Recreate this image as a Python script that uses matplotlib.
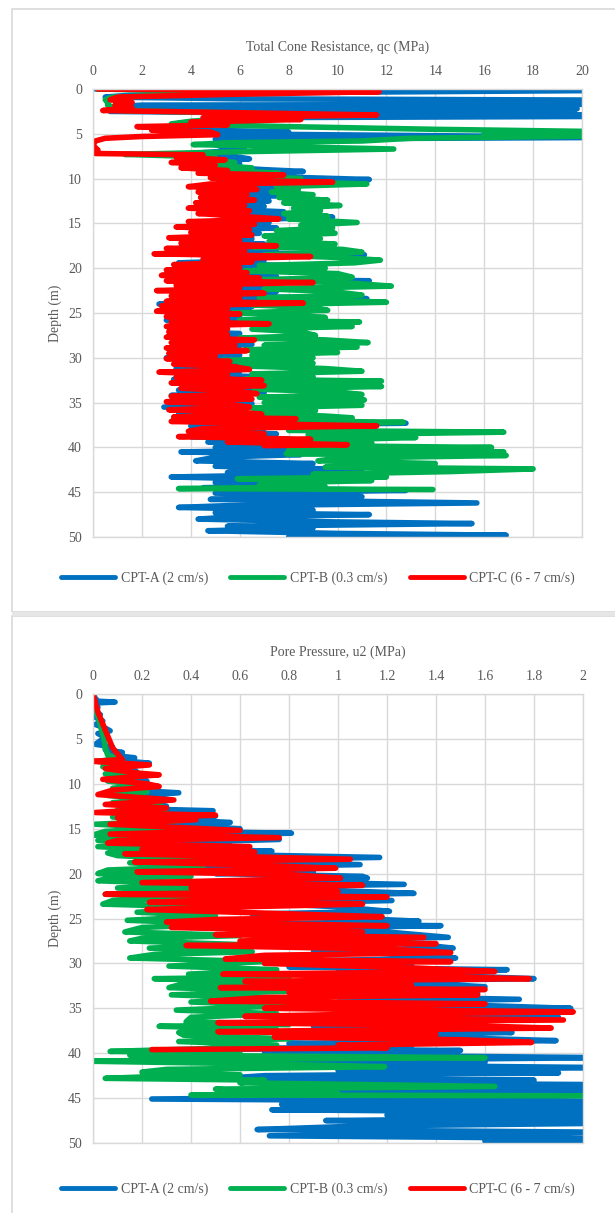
import numpy as np
import matplotlib.pyplot as plt
from matplotlib.patches import Rectangle
from matplotlib.lines import Line2D
from matplotlib.ticker import FuncFormatter

# (depth m, value MPa) pairs
qc_A = [(0.0, 0.1), (0.05, 22), (0.15, 22), (0.4, 8.0), (0.7, 1.5), (0.9, 0.5), (1.1, 6.0), (1.25, 22),
        (1.45, 18.1), (1.7, 22), (1.8, 2.0), (2.0, 0.8), (2.1, 1.2), (2.2, 19.8), (2.3, 1.0), (2.5, 0.7),
        (2.8, 11.5), (2.9, 22), (3.05, 22), (3.2, 6.0), (3.5, 5.0), (3.8, 3.5), (4.1, 4.0), (4.5, 3.0),
        (4.8, 8.0), (5.0, 5.0), (5.4, 22), (5.6, 5.0), (5.9, 5.3), (6.2, 5.0), (6.6, 5.5), (6.8, 6.2),
        (7.1, 4.5), (7.4, 5.5), (7.8, 6.4), (8.1, 4.8), (8.4, 6.0), (8.7, 5.2), (9.0, 7.0), (9.2, 8.6),
        (9.5, 6.0), (9.8, 7.5), (10.1, 11.3), (10.4, 6.2), (10.7, 8.5), (11.0, 5.3), (11.3, 7.8),
        (11.6, 5.5), (11.9, 7.5), (12.2, 5.0), (12.5, 7.2), (12.8, 5.2), (13.1, 7.0), (13.4, 5.0),
        (13.7, 7.8), (14.0, 5.5), (14.3, 9.8), (14.6, 6.0), (14.9, 7.2), (15.2, 5.0), (15.5, 7.5),
        (15.8, 4.5), (16.1, 6.8), (16.4, 4.3), (16.7, 6.5), (17.0, 4.0), (17.3, 7.0), (17.6, 4.5),
        (17.9, 7.5), (18.2, 4.2), (18.5, 11.1), (18.8, 5.0), (19.1, 7.0), (19.4, 3.5), (19.7, 8.0),
        (20.0, 4.2), (20.3, 7.0), (20.6, 3.8), (20.9, 7.5), (21.2, 5.0), (21.4, 11.3), (21.7, 4.5),
        (22.0, 7.0), (22.3, 3.6), (22.6, 7.5), (22.9, 4.0), (23.2, 7.0), (23.4, 11.2), (23.7, 4.5),
        (24.0, 2.7), (24.3, 6.5), (24.6, 4.0), (24.9, 6.0), (25.2, 3.5), (25.5, 6.0), (25.8, 3.0),
        (26.1, 6.5), (26.4, 4.0), (26.7, 5.5), (27.0, 3.5), (27.3, 6.0), (27.6, 3.3), (27.9, 6.0),
        (28.2, 3.5), (28.5, 6.5), (28.8, 3.2), (29.1, 6.0), (29.4, 3.5), (29.7, 6.0), (30.0, 3.0),
        (30.3, 5.5), (30.6, 3.8), (30.9, 6.2), (31.2, 3.4), (31.5, 6.0), (31.8, 3.6), (32.1, 6.5),
        (32.4, 3.3), (32.7, 6.8), (33.0, 3.8), (33.3, 6.5), (33.6, 3.5), (33.9, 7.0), (34.2, 3.2),
        (34.5, 6.0), (34.8, 3.3), (35.1, 6.5), (35.5, 2.9), (35.8, 6.0), (36.1, 3.5), (36.4, 6.5),
        (36.7, 3.8), (37.0, 7.5), (37.3, 12.8), (37.6, 4.0), (37.9, 7.0), (38.2, 4.0), (38.5, 7.5),
        (38.8, 4.0), (39.1, 8.0), (39.4, 4.7), (39.7, 9.5), (40.0, 5.0), (40.3, 9.0), (40.5, 3.6),
        (40.8, 8.5), (41.1, 5.0), (41.5, 4.2), (41.8, 9.0), (42.1, 5.0), (42.5, 11.0), (42.8, 5.5),
        (43.0, 9.5), (43.3, 3.2), (43.6, 8.0), (43.9, 5.0), (44.2, 9.1), (44.5, 4.5), (44.8, 12.8),
        (45.1, 5.0), (45.5, 11.0), (45.8, 4.8), (46.2, 15.7), (46.5, 5.5), (46.7, 3.5), (47.0, 9.0),
        (47.3, 5.0), (47.5, 11.3), (47.8, 5.5), (48.0, 4.3), (48.3, 9.5), (48.5, 15.5), (48.8, 5.5),
        (49.0, 9.0), (49.3, 4.7), (49.6, 10.0), (49.8, 16.9), (50.0, 8.0)]

qc_B = [(0.0, 0.2), (0.3, 5.5), (0.6, 4.0), (0.9, 0.8), (1.2, 0.5), (1.5, 0.6), (1.8, 0.6), (2.1, 0.9),
        (2.4, 1.0), (2.8, 8.0), (3.2, 6.0), (3.6, 4.0), (3.9, 3.2), (4.2, 8.0), (4.5, 14.0), (4.8, 22),
        (5.0, 16.0), (5.2, 22), (5.5, 13.0), (5.8, 11.0), (6.0, 5.5), (6.2, 4.1), (6.5, 9.0), (6.7, 12.3),
        (7.0, 6.0), (7.3, 1.3), (7.6, 5.0), (7.9, 4.5), (8.2, 5.8), (8.5, 4.8), (8.8, 6.5), (9.1, 5.5),
        (9.4, 7.6), (9.7, 6.0), (10.0, 8.5), (10.3, 7.0), (10.6, 11.2), (10.9, 7.5), (11.2, 8.4),
        (11.5, 7.3), (11.8, 9.0), (12.1, 7.6), (12.4, 9.6), (12.7, 7.8), (13.0, 10.1), (13.3, 8.2),
        (13.6, 9.3), (13.9, 7.8), (14.2, 9.6), (14.5, 8.0), (14.9, 10.8), (15.2, 8.5), (15.5, 9.8),
        (15.8, 7.5), (16.1, 9.9), (16.4, 7.0), (16.7, 9.3), (17.0, 7.2), (17.3, 9.9), (17.6, 6.5),
        (17.9, 10.2), (18.2, 11.0), (18.5, 7.0), (18.8, 10.0), (19.1, 11.75), (19.4, 10.7), (19.7, 6.8),
        (20.0, 9.5), (20.3, 6.2), (20.6, 10.0), (21.0, 10.6), (21.3, 6.5), (21.6, 10.2), (22.0, 12.2),
        (22.3, 7.0), (22.6, 9.8), (23.0, 11.0), (23.3, 6.8), (23.6, 10.0), (23.8, 12.0), (24.1, 6.5),
        (24.4, 9.0), (24.7, 9.6), (25.0, 5.7), (25.3, 8.5), (25.5, 9.5), (25.8, 6.0), (26.0, 10.9),
        (26.3, 7.0), (26.5, 10.6), (26.8, 6.5), (27.1, 8.5), (27.5, 9.1), (27.8, 6.0), (28.0, 9.5),
        (28.3, 11.25), (28.6, 7.0), (28.8, 10.8), (29.1, 6.2), (29.4, 10.0), (29.7, 6.5), (30.0, 9.0),
        (30.3, 5.3), (30.6, 9.0), (30.9, 6.0), (31.2, 9.5), (31.5, 11.0), (31.8, 6.5), (32.1, 9.0),
        (32.4, 6.2), (32.6, 11.8), (32.9, 7.0), (33.2, 11.8), (33.5, 6.6), (33.8, 10.0), (34.1, 11.0),
        (34.4, 6.8), (34.7, 11.1), (35.0, 7.0), (35.3, 11.0), (35.6, 6.5), (35.9, 9.1), (36.2, 6.8),
        (36.5, 9.5), (36.7, 10.6), (37.0, 7.0), (37.2, 12.7), (37.5, 6.7), (37.8, 11.0), (38.1, 8.0),
        (38.3, 16.8), (38.6, 8.8), (38.9, 13.2), (39.2, 9.0), (39.5, 11.4), (39.8, 8.5), (40.0, 16.3),
        (40.3, 8.0), (40.5, 16.8), (40.7, 7.9), (40.9, 16.9), (41.2, 10.0), (41.5, 9.2), (41.8, 14.0),
        (42.0, 13.9), (42.2, 9.5), (42.4, 18.0), (42.7, 14.6), (43.0, 9.0), (43.3, 12.0), (43.5, 5.9),
        (43.7, 11.4), (44.0, 7.0), (44.2, 6.8), (44.4, 9.5), (44.6, 3.5), (44.7, 13.9)]

qc_C = [(0.0, 0.2), (0.3, 11.7), (0.6, 5.5), (0.9, 1.0), (1.2, 0.7), (1.5, 1.6), (1.8, 0.9), (2.1, 1.6),
        (2.4, 0.4), (2.9, 11.6), (3.2, 4.5), (3.4, 8.5), (3.7, 4.0), (4.0, 5.5), (4.2, 1.8), (4.4, 3.5),
        (4.6, 2.4), (4.8, 4.8), (5.1, 5.1), (5.3, 2.0), (5.5, 0.5), (5.8, 0.1), (6.3, 0.0), (6.8, 0.2),
        (7.2, 0.1), (7.35, 4.5), (7.6, 3.4), (7.9, 5.4), (8.2, 3.2), (8.5, 5.0), (8.8, 3.6), (9.1, 5.5),
        (9.4, 4.3), (9.6, 7.8), (9.9, 4.8), (10.2, 6.0), (10.4, 9.8), (10.6, 4.8), (10.9, 3.9),
        (11.2, 6.7), (11.5, 4.3), (11.8, 6.3), (12.1, 4.4), (12.4, 6.6), (12.7, 4.2), (13.0, 6.2),
        (13.3, 3.9), (13.6, 6.4), (13.9, 4.3), (14.2, 6.0), (14.5, 7.6), (14.8, 3.9), (15.1, 6.6),
        (15.4, 3.4), (15.7, 6.4), (16.0, 4.0), (16.3, 6.5), (16.6, 3.1), (16.9, 6.0), (17.2, 3.6),
        (17.5, 7.5), (17.8, 3.0), (18.1, 6.2), (18.4, 2.5), (18.7, 8.9), (19.0, 4.5), (19.3, 6.5),
        (19.6, 3.3), (19.9, 6.0), (20.2, 3.0), (20.5, 6.3), (20.8, 2.8), (21.1, 6.8), (21.4, 3.0),
        (21.6, 9.0), (21.9, 3.4), (22.2, 6.0), (22.5, 2.6), (22.8, 7.0), (23.1, 3.2), (23.4, 6.0),
        (23.7, 3.0), (23.9, 8.6), (24.2, 2.8), (24.5, 5.5), (24.8, 2.6), (25.1, 6.0), (25.4, 3.0),
        (25.7, 5.5), (26.0, 3.2), (26.2, 7.2), (26.5, 3.0), (26.8, 5.5), (27.1, 3.1), (27.4, 5.5),
        (27.7, 3.0), (28.0, 6.6), (28.3, 3.2), (28.6, 5.8), (28.9, 3.0), (29.2, 6.3), (29.5, 3.1),
        (29.8, 5.0), (30.1, 3.0), (30.4, 5.6), (30.7, 3.3), (31.0, 5.8), (31.3, 6.4), (31.6, 2.7),
        (31.9, 5.5), (32.2, 3.4), (32.5, 6.9), (32.8, 3.2), (33.1, 7.0), (33.4, 3.6), (33.7, 5.8),
        (34.0, 6.7), (34.3, 3.2), (34.6, 6.5), (34.9, 3.0), (35.2, 5.5), (35.5, 6.4), (35.8, 3.1),
        (36.1, 6.2), (36.3, 6.9), (36.6, 3.3), (36.8, 8.3), (37.1, 3.2), (37.4, 7.5), (37.6, 11.6),
        (37.9, 4.5), (38.2, 3.9), (38.5, 7.0), (38.8, 3.5), (39.1, 8.9), (39.4, 5.5), (39.7, 10.4),
        (39.8, 7.0)]

u2_A = [(0.0, 0.0), (0.5, 0.01), (0.8, 0.02), (0.9, 0.09), (1.0, 0.01), (1.5, 0.02), (2.0, 0.01),
        (2.3, 0.03), (2.6, 0.01), (3.0, 0.04), (3.4, 0.01), (3.8, 0.05), (4.1, 0.07), (4.4, 0.02),
        (4.8, 0.05), (5.2, 0.03), (5.6, 0.01), (5.9, 0.08), (6.2, 0.05), (6.5, 0.12), (6.8, 0.07),
        (7.1, 0.17), (7.4, 0.1), (7.7, 0.23), (8.0, 0.12), (8.3, 0.16), (8.7, 0.18), (9.0, 0.1),
        (9.3, 0.2), (9.7, 0.22), (10.0, 0.14), (10.4, 0.25), (10.7, 0.15), (11.0, 0.35), (11.4, 0.16),
        (11.8, 0.32), (12.1, 0.18), (12.5, 0.3), (12.8, 0.2), (13.0, 0.49), (13.3, 0.22), (13.6, 0.5),
        (13.9, 0.25), (14.3, 0.56), (14.6, 0.3), (15.0, 0.6), (15.3, 0.35), (15.5, 0.81), (15.8, 0.3),
        (16.2, 0.76), (16.5, 0.35), (16.9, 0.56), (17.2, 0.3), (17.5, 0.73), (17.8, 0.4), (18.2, 1.17),
        (18.5, 0.4), (19.0, 1.09), (19.3, 0.45), (19.7, 0.9), (20.0, 0.5), (20.3, 1.1), (20.5, 1.12),
        (20.8, 0.6), (21.2, 1.27), (21.5, 0.55), (21.9, 1.0), (22.2, 1.31), (22.5, 0.6), (23.0, 1.22),
        (23.3, 0.7), (23.7, 1.0), (24.2, 1.21), (24.5, 0.65), (24.9, 1.0), (25.3, 1.33), (25.6, 0.7),
        (25.8, 1.42), (26.1, 0.8), (26.5, 1.2), (27.1, 1.45), (27.4, 0.8), (27.8, 1.3), (28.3, 1.47),
        (28.6, 0.9), (29.0, 1.3), (29.4, 1.48), (29.7, 0.9), (30.1, 1.3), (30.4, 0.8), (30.7, 1.69),
        (31.0, 1.0), (31.4, 1.5), (31.7, 1.8), (32.0, 1.0), (32.3, 1.4), (32.6, 1.6), (33.0, 0.9),
        (33.3, 1.57), (33.6, 1.0), (34.0, 1.74), (34.3, 1.0), (34.7, 1.6), (35.0, 1.95), (35.3, 1.1),
        (35.6, 1.7), (36.0, 1.9), (36.3, 1.0), (36.7, 1.6), (37.0, 0.9), (37.4, 1.5), (37.7, 1.71),
        (38.0, 1.0), (38.3, 1.5), (38.6, 1.89), (38.9, 0.8), (39.2, 1.3), (39.5, 0.6), (39.7, 1.5),
        (40.0, 0.7), (40.3, 1.3), (40.5, 2.1), (40.8, 0.8), (41.0, 1.6), (41.3, 0.9), (41.6, 2.1),
        (41.9, 1.0), (42.2, 1.9), (42.5, 0.7), (42.8, 0.53), (43.0, 1.8), (43.3, 0.8), (43.5, 2.1),
        (43.8, 1.0), (44.1, 2.1), (44.4, 0.7), (44.7, 2.1), (45.1, 0.24), (45.4, 2.1), (45.7, 0.77),
        (46.0, 2.1), (46.3, 0.73), (46.6, 2.1), (46.9, 1.2), (47.2, 2.1), (47.5, 0.95), (47.8, 2.1),
        (48.1, 1.1), (48.5, 0.67), (48.8, 2.1), (49.2, 0.72), (49.5, 2.1), (49.8, 1.6), (50.0, 2.1)]

u2_B = [(0.0, 0.0), (1.0, 0.005), (2.0, 0.015), (3.0, 0.025), (4.0, 0.035), (5.0, 0.045), (6.0, 0.05),
        (6.8, 0.06), (7.2, 0.1), (7.5, 0.02), (7.8, 0.12), (8.1, 0.04), (8.5, 0.15), (8.9, 0.05),
        (9.3, 0.17), (9.7, 0.06), (10.1, 0.2), (10.5, 0.08), (10.9, 0.22), (11.3, 0.06), (11.7, 0.25),
        (12.1, 0.08), (12.5, 0.28), (12.9, 0.1), (13.3, 0.3), (13.7, 0.08), (14.1, 0.35), (14.5, 0.01),
        (14.9, 0.3), (15.3, 0.05), (15.7, 0.0), (16.0, 0.35), (16.3, 0.02), (16.7, 0.3), (17.0, 0.02),
        (17.4, 0.35), (17.7, 0.06), (18.0, 0.1), (18.4, 0.4), (18.8, 0.15), (19.2, 0.45), (19.6, 0.06),
        (20.0, 0.02), (20.3, 0.4), (20.6, 0.05), (20.8, 0.02), (21.2, 0.45), (21.6, 0.1), (22.0, 0.5),
        (22.3, 0.05), (22.7, 0.5), (23.0, 0.08), (23.4, 0.04), (23.8, 0.55), (24.3, 0.18), (24.7, 0.5),
        (25.2, 0.14), (25.6, 0.55), (26.0, 0.2), (26.5, 0.13), (26.9, 0.6), (27.2, 0.2), (27.5, 0.15),
        (27.9, 0.6), (28.3, 0.23), (28.7, 0.65), (29.0, 0.25), (29.4, 0.15), (29.8, 0.7), (30.3, 0.31),
        (30.7, 0.75), (31.2, 0.39), (31.5, 0.8), (31.7, 0.25), (32.1, 0.75), (32.4, 0.35), (32.7, 0.31),
        (33.1, 0.8), (33.5, 0.32), (33.9, 0.75), (34.3, 0.4), (34.7, 0.8), (35.2, 0.34), (35.6, 0.75),
        (36.0, 0.4), (36.5, 0.38), (36.8, 0.8), (37.0, 0.27), (37.4, 0.75), (37.7, 0.35), (38.0, 0.37),
        (38.4, 0.8), (38.7, 0.35), (39.1, 0.75), (39.5, 0.45), (39.8, 0.07), (40.0, 0.6), (40.2, 0.15),
        (40.5, 1.6), (40.7, 0.4), (40.9, 0.0), (41.2, 0.7), (41.5, 1.19), (41.8, 0.3), (42.1, 0.2),
        (42.4, 0.6), (42.6, 0.25), (42.8, 0.05), (43.0, 0.7), (43.3, 0.6), (43.7, 1.64), (44.0, 0.5),
        (44.2, 0.6), (44.5, 1.0), (44.65, 0.4), (44.75, 2.1)]

u2_C = [(0.0, 0.0), (1.0, 0.01), (2.0, 0.02), (3.0, 0.035), (4.0, 0.05), (5.0, 0.065), (6.0, 0.08),
        (7.0, 0.11), (7.3, 0.12), (7.5, 0.0), (7.9, 0.23), (8.3, 0.05), (8.8, 0.18), (9.0, 0.27),
        (9.5, 0.04), (10.0, 0.22), (10.3, 0.27), (10.7, 0.08), (11.2, 0.02), (11.8, 0.33), (12.3, 0.05),
        (12.7, 0.3), (13.2, 0.01), (13.5, 0.5), (13.8, 0.1), (14.0, 0.42), (14.5, 0.07), (15.2, 0.6),
        (15.6, 0.07), (16.0, 0.76), (16.3, 0.1), (16.6, 0.06), (17.0, 0.64), (17.3, 0.2), (17.6, 0.66),
        (17.8, 0.13), (18.4, 1.05), (18.7, 0.17), (19.0, 0.6), (19.4, 0.99), (19.8, 0.18), (20.1, 0.8),
        (20.5, 1.01), (21.0, 0.2), (21.3, 1.1), (21.6, 0.4), (22.0, 1.0), (22.3, 0.05), (22.6, 1.2),
        (22.9, 0.5), (23.2, 0.23), (23.4, 1.1), (23.7, 0.6), (24.0, 0.22), (24.5, 0.82), (24.8, 1.18),
        (25.1, 0.5), (25.4, 0.3), (25.8, 1.2), (26.0, 0.32), (26.5, 1.1), (26.8, 0.5), (27.1, 1.35),
        (27.5, 0.6), (27.8, 1.4), (28.0, 0.38), (28.4, 1.2), (28.8, 1.46), (29.1, 0.7), (29.5, 0.54),
        (29.8, 1.46), (30.0, 0.7), (30.5, 1.3), (30.9, 1.64), (31.2, 0.53), (31.5, 1.4), (31.7, 1.78),
        (32.0, 0.62), (32.4, 1.3), (32.7, 0.52), (32.9, 1.6), (33.2, 0.8), (33.5, 1.57), (33.8, 0.7),
        (34.2, 0.48), (34.5, 1.6), (34.8, 0.9), (35.0, 0.7), (35.4, 1.96), (35.7, 1.0), (35.9, 0.62),
        (36.3, 1.92), (36.6, 0.51), (36.9, 1.5), (37.2, 1.87), (37.6, 0.51), (37.9, 1.4), (38.2, 0.74),
        (38.5, 1.5), (38.8, 1.79), (39.1, 1.0), (39.4, 1.2), (39.6, 0.24)]

labels = ['CPT-A (2 cm/s)', 'CPT-B (0.3 cm/s)', 'CPT-C (6 - 7 cm/s)']
colors = ['#0070C0', '#00B050', '#FF0000']

W, H = 615, 1213
grey = '#595959'
grid = '#D9D9D9'
font = {'family': 'Liberation Serif', 'size': 10}

fig = plt.figure(figsize=(W / 100, H / 100), dpi=100)


def box(x0, y0, x1, y1):
    # pixel coords, origin top-left
    return [x0 / W, 1 - y1 / H, (x1 - x0) / W, (y1 - y0) / H]


# chart area frames
fig.add_artist(Rectangle((12 / W, 1 - 612 / H), 1, (612 - 9) / H, transform=fig.transFigure,
                         fill=False, ec=grid, lw=1.2))
fig.add_artist(Rectangle((12 / W, -0.1), 1, 0.1 + 1 - 616 / H, transform=fig.transFigure,
                         fill=False, ec=grid, lw=1.2))
fig.add_artist(Rectangle((12 / W, 1 - 616 / H), 1, 4 / H, transform=fig.transFigure,
                         fc='#E6E6E6', ec='none'))


def draw(ax, series, title, xmax, xstep, legend_y):
    for data, c in zip(series, colors):
        d = [p[0] for p in data]
        v = [p[1] for p in data]
        ax.plot(v, d, color=c, lw=4, solid_joinstyle='round', solid_capstyle='round')
    ax.set_xlim(0, xmax)
    ax.set_ylim(50, 0)
    ax.set_xticks(np.arange(0, xmax + xstep / 2, xstep))
    ax.set_yticks(range(0, 51, 5))
    ax.xaxis.set_major_formatter(FuncFormatter(lambda x, p: '%g' % round(x, 2)))
    ax.xaxis.tick_top()
    ax.xaxis.set_label_position('top')
    ax.set_xlabel(title, fontdict=font, color=grey, labelpad=10)
    ax.set_ylabel('Depth (m)', fontdict=font, color=grey, labelpad=4)
    ax.tick_params(length=0, labelcolor=grey, pad=8)
    for lab in ax.get_xticklabels() + ax.get_yticklabels():
        lab.set_fontfamily('Liberation Serif')
        lab.set_fontsize(10)
    ax.grid(True, color=grid, lw=1)
    ax.set_axisbelow(True)
    for s in ax.spines.values():
        s.set_color(grid)
        s.set_linewidth(1)
    handles = [Line2D([], [], color=c, lw=3.5, solid_capstyle='round') for c in colors]
    fig.legend(handles, labels, loc='center', bbox_to_anchor=(318 / W, 1 - legend_y / H), ncol=3,
               frameon=False, handlelength=3.9, handletextpad=0.4, columnspacing=1.6,
               prop={'family': 'Liberation Serif', 'size': 10}, labelcolor=grey)


ax1 = fig.add_axes(box(93, 89, 582, 537))
draw(ax1, [qc_A, qc_B, qc_C], 'Total Cone Resistance, qc (MPa)', 20, 2, 578)

ax2 = fig.add_axes(box(93, 694, 583, 1143))
draw(ax2, [u2_A, u2_B, u2_C], 'Pore Pressure, u2 (MPa)', 2, 0.2, 1189)

plt.savefig('out.png', dpi=100)
